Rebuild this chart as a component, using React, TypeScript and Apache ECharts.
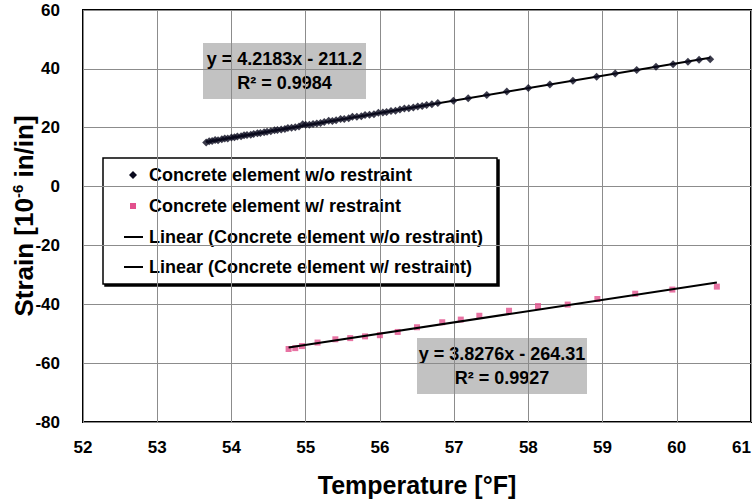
import React, { useEffect, useRef } from "react";
import * as echarts from "echarts";

// Concrete element without restraint: temperature [°F] and strain [10^-6 in/in]
const tempFree = [
  53.66, 53.7, 53.74, 53.78, 53.82, 53.87, 53.91, 53.95, 54.0, 54.04, 54.08, 54.13,
  54.17, 54.21, 54.26, 54.3, 54.35, 54.39, 54.44, 54.48, 54.53, 54.58, 54.62, 54.67,
  54.72, 54.76, 54.81, 54.86, 54.91, 54.96, 55.0, 55.05, 55.1, 55.15, 55.2, 55.25,
  55.31, 55.36, 55.41, 55.47, 55.52, 55.58, 55.63, 55.69, 55.75, 55.8, 55.86, 55.92,
  55.98, 56.04, 56.09, 56.15, 56.21, 56.27, 56.33, 56.39, 56.45, 56.51, 56.57, 56.63,
  56.7, 56.78, 56.99, 57.19, 57.44, 57.71, 58.0, 58.29, 58.6, 58.92, 59.17, 59.46,
  59.72, 59.95, 60.15, 60.3, 60.45,
];
const strainFree = [
  15.0, 15.4, 15.5, 15.8, 15.7, 16.1, 16.3, 16.3, 16.7, 16.8, 17.0, 17.1,
  17.4, 17.5, 17.6, 17.9, 18.1, 18.2, 18.5, 18.6, 18.8, 19.1, 19.2, 19.4,
  19.6, 19.9, 20.0, 20.2, 20.4, 21.2, 21.0, 21.0, 21.3, 21.4, 21.6, 21.9,
  22.4, 22.3, 22.5, 23.0, 23.0, 23.2, 23.7, 23.7, 23.9, 24.3, 24.4, 24.6,
  25.1, 25.2, 25.3, 25.7, 25.8, 26.2, 26.5, 26.6, 26.9, 27.2, 27.4, 27.7,
  28.0, 28.4, 29.2, 30.0, 31.1, 32.3, 33.5, 34.7, 36.0, 37.3, 38.4, 39.6,
  40.7, 41.6, 42.4, 43.1, 43.3,
];

// Concrete element with restraint
const tempRestrained = [
  54.77, 54.86, 54.95, 55.16, 55.4, 55.6, 55.8, 56.0, 56.24, 56.5, 56.84, 57.09,
  57.34, 57.74, 58.13, 58.53, 58.93, 59.44, 59.94, 60.54,
];
const strainRestrained = [
  -55.2, -54.9, -54.2, -53.0, -51.9, -51.5, -50.9, -50.5, -49.4, -47.8, -46.1, -45.2,
  -43.9, -42.2, -40.6, -40.1, -38.2, -36.4, -35.0, -34.0,
];

// Linear trendline coefficients (slope, intercept, R²)
const fitFree = { slope: 4.2183, intercept: -211.2, r2: "0.9984" };
const fitRestrained = { slope: 3.8276, intercept: -264.31, r2: "0.9927" };

const seriesNames = [
  "Concrete element w/o restraint",
  "Concrete element w/ restraint",
  "Linear (Concrete element w/o restraint)",
  "Linear (Concrete element w/ restraint)",
];

const xTicks = { min: 52, max: 61, interval: 1 };
const yTicks = { min: -80, max: 60, interval: 20 };

const FONT = "Liberation Sans, Arial, sans-serif";
const PINK = "#E2508C";
const NAVY = "#0a0a1e";

function trend(xs: number[], fit: { slope: number; intercept: number }) {
  const lo = Math.min(...xs);
  const hi = Math.max(...xs);
  return [
    [lo, fit.slope * lo + fit.intercept],
    [hi, fit.slope * hi + fit.intercept],
  ];
}

function fmtEq(fit: { slope: number; intercept: number }) {
  const sign = fit.intercept < 0 ? "-" : "+";
  return `y = ${fit.slope}x ${sign} ${Math.abs(fit.intercept)}`;
}

function eqBox(x: number, y: number, w: number, h: number, fit: any) {
  const line = (text: string, ty: number) => ({
    type: "text",
    x: w / 2,
    y: ty,
    style: {
      text,
      font: `bold 18px ${FONT}`,
      fill: "#000",
      align: "center",
      verticalAlign: "middle",
    },
  });
  return {
    type: "group",
    x,
    y,
    children: [
      { type: "rect", shape: { x: 0, y: 0, width: w, height: h }, style: { fill: "#C2C2C2" } },
      line(fmtEq(fit), 16),
      line(`R² = ${fit.r2}`, 40),
    ],
  };
}

function legendBox() {
  const ox = 103;
  const oy = 158;
  const rows = [175, 206, 237, 267].map((r) => r - oy);
  const mx = 133 - ox;
  const children: any[] = [
    {
      type: "rect",
      shape: { x: 0, y: 0, width: 394, height: 126 },
      style: {
        fill: "#fff",
        stroke: "#000",
        lineWidth: 1.5,
        shadowColor: "#000",
        shadowOffsetX: 2,
        shadowOffsetY: 2,
        shadowBlur: 0,
      },
    },
    {
      type: "polygon",
      shape: {
        points: [
          [mx, rows[0] - 4],
          [mx + 4, rows[0]],
          [mx, rows[0] + 4],
          [mx - 4, rows[0]],
        ],
      },
      style: { fill: NAVY },
    },
    {
      type: "rect",
      shape: { x: mx - 3, y: rows[1] - 3, width: 6, height: 6 },
      style: { fill: PINK },
    },
  ];
  [2, 3].forEach((i) => {
    children.push({
      type: "line",
      shape: { x1: 124 - ox, y1: rows[i], x2: 143 - ox, y2: rows[i] },
      style: { stroke: "#000", lineWidth: 2 },
    });
  });
  seriesNames.forEach((name, i) => {
    children.push({
      type: "text",
      x: 149 - ox,
      y: rows[i],
      style: {
        text: name,
        font: `bold 18px ${FONT}`,
        fill: "#000",
        verticalAlign: "middle",
      },
    });
  });
  return { type: "group", x: ox, y: oy, children };
}

export default function App() {
  const ref = useRef<HTMLDivElement>(null);

  useEffect(() => {
    if (!ref.current) return;
    const chart = echarts.init(ref.current, null, { renderer: "svg" });
    const free = tempFree.map((t, i) => [t, strainFree[i]]);
    const restrained = tempRestrained.map((t, i) => [t, strainRestrained[i]]);

    chart.setOption({
      animation: false,
      backgroundColor: "#fff",
      textStyle: { fontFamily: FONT },
      grid: {
        left: 83,
        right: 5,
        top: 10,
        bottom: 82,
        containLabel: false,
        outerBoundsMode: "none",
        show: true,
        borderColor: "#000",
        borderWidth: 2,
      },
      xAxis: {
        type: "value",
        min: xTicks.min,
        max: xTicks.max,
        interval: xTicks.interval,
        name: "Temperature [°F]",
        nameLocation: "middle",
        nameGap: 50,
        nameMoveOverlap: false,
        nameTextStyle: { fontFamily: FONT, fontSize: 25, fontWeight: "bold", color: "#000" },
        axisLine: { show: false },
        axisTick: { show: false },
        axisLabel: {
          fontFamily: FONT,
          fontSize: 17,
          fontWeight: "bold",
          color: "#000",
          margin: 17,
          alignMaxLabel: "right",
        },
        splitLine: { show: true, lineStyle: { color: "#8c8c8c", width: 1 } },
      },
      yAxis: {
        type: "value",
        min: yTicks.min,
        max: yTicks.max,
        interval: yTicks.interval,
        name: "{a|Strain [10}{s|-6}{a| in/in]}",
        nameLocation: "middle",
        nameGap: 46,
        nameMoveOverlap: false,
        nameRotate: 90,
        nameTextStyle: {
          rich: {
            a: { fontFamily: FONT, fontSize: 26, fontWeight: "bold", color: "#000" },
            s: {
              fontFamily: FONT,
              fontSize: 15,
              fontWeight: "bold",
              color: "#000",
              verticalAlign: "top",
              padding: [0, 0, 12, 0],
            },
          },
        },
        axisLine: { show: false },
        axisTick: { show: false },
        axisLabel: { fontFamily: FONT, fontSize: 17, fontWeight: "bold", color: "#000", margin: 23 },
        splitLine: { show: true, lineStyle: { color: "#8c8c8c", width: 1 } },
      },
      series: [
        {
          name: seriesNames[2],
          type: "line",
          data: trend(tempFree, fitFree),
          showSymbol: false,
          symbol: "none",
          lineStyle: { color: "#000", width: 2 },
          z: 3,
        },
        {
          name: seriesNames[3],
          type: "line",
          data: trend(tempRestrained, fitRestrained),
          showSymbol: false,
          symbol: "none",
          lineStyle: { color: "#000", width: 2 },
          z: 3,
        },
        {
          name: seriesNames[0],
          type: "scatter",
          data: free,
          symbol: "diamond",
          symbolSize: 8,
          itemStyle: { color: NAVY },
          z: 4,
        },
        {
          name: seriesNames[1],
          type: "scatter",
          data: restrained,
          symbol: "rect",
          symbolSize: 6,
          itemStyle: { color: PINK },
          z: 2,
        },
      ],
      graphic: [
        eqBox(203, 43, 163, 56, fitFree),
        eqBox(417, 338, 170, 56, fitRestrained),
        legendBox(),
      ],
    });

    return () => chart.dispose();
  }, []);

  return (
    <div
      ref={ref}
      style={{ position: "absolute", left: 0, top: 0, width: 756, height: 504 }}
    />
  );
}
